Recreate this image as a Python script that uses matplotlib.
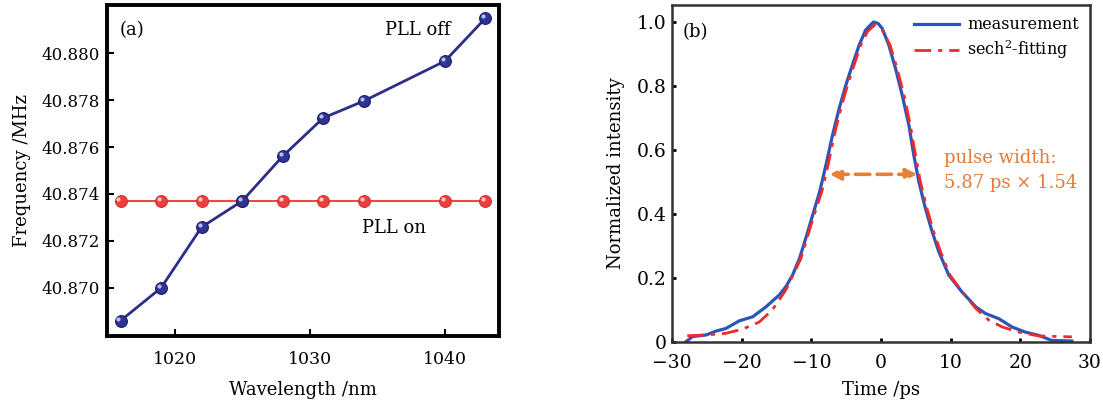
import numpy as np
import matplotlib.pyplot as plt
import matplotlib.transforms as mtransforms

plt.rcParams['font.family'] = ['DejaVu Serif']
plt.rcParams['mathtext.fontset'] = 'dejavuserif'

# (a) frequency vs wavelength
wavelength = [1016, 1019, 1022, 1025, 1028, 1031, 1034, 1040, 1043]
freq_off = [40.8686, 40.8700, 40.87259, 40.8737, 40.87561, 40.87724, 40.87796, 40.87966, 40.88149]
freq_on = [40.8737, 40.8737, 40.8737, 40.8737, 40.8737, 40.8737, 40.8737, 40.8737, 40.8737]

# (b) autocorrelation trace
t_meas = [-28.0, -27.05, -25.1, -23.7, -22.3, -20.35, -18.4, -16.5, -14.6, -13.65, -12.7,
          -11.7, -10.8, -9.8, -8.8, -7.9, -6.95, -6.0, -5.04, -4.1, -3.13, -2.2, -1.08,
          -0.4, 0.17, 1.12, 2.08, 3.04, 4.0, 4.71, 5.43, 6.38, 7.34, 8.3, 9.73, 11.6, 13.6,
          15.0, 16.9, 18.8, 20.7, 22.6, 24.5, 27.4]
i_meas = [0.001, 0.017, 0.022, 0.034, 0.042, 0.066, 0.079, 0.110, 0.147, 0.173, 0.209,
          0.261, 0.324, 0.397, 0.470, 0.553, 0.647, 0.730, 0.803, 0.866, 0.928, 0.975, 1.0,
          0.995, 0.98, 0.928, 0.855, 0.772, 0.678, 0.584, 0.501, 0.417, 0.345, 0.282, 0.209,
          0.157, 0.110, 0.089, 0.073, 0.047, 0.031, 0.021, 0.005, 0.003]
t_fit = [-27.8, -25.1, -22.3, -19.9, -17.5, -15.6, -13.65, -11.5, -9.6, -8.5, -7.6, -6.7,
         -5.76, -4.8, -3.85, -2.9, -1.94, -0.98, 0.17, 1.3, 2.3, 3.3, 4.2, 4.95, 5.65, 6.6,
         7.55, 8.55, 9.9, 11.65, 13.6, 15.5, 17.4, 19.8, 22.6, 27.4]
i_fit = [0.0195, 0.022, 0.027, 0.040, 0.062, 0.100, 0.163, 0.261, 0.397, 0.470, 0.553, 0.647,
         0.730, 0.803, 0.866, 0.928, 0.970, 0.990, 0.975, 0.928, 0.855, 0.772, 0.678, 0.584,
         0.501, 0.417, 0.345, 0.282, 0.209, 0.157, 0.105, 0.068, 0.047, 0.031, 0.019, 0.016]

fig = plt.figure(figsize=(11.03, 4.07), dpi=100)
ax1 = fig.add_axes([107 / 1103, 1 - 336 / 407, (499 - 107) / 1103, (336 - 5) / 407])
ax2 = fig.add_axes([672 / 1103, 1 - 342 / 407, (1090 - 672) / 1103, (342 - 5) / 407])

# Panel (a)
hl = mtransforms.offset_copy(ax1.transData, fig=fig, x=-1.5, y=1.5, units='points')
ax1.plot(wavelength, freq_on, '-', color='#f04848', lw=1.5, marker='o', ms=8.5,
         mfc='#ee3f3f', mec='#d83030', mew=0.8, zorder=2)
ax1.plot(wavelength, freq_on, 'o', ms=3, mfc='#ffc8c8', mec='none', transform=hl, zorder=2.5)
ax1.plot(wavelength, freq_off, '-', color='#2b2f85', lw=2.0, marker='o', ms=8.5,
         mfc='#2e3394', mec='#1c1f66', mew=0.8, zorder=3)
ax1.plot(wavelength, freq_off, 'o', ms=3, mfc='#b8bce8', mec='none', transform=hl, zorder=3.5)
ax1.set_xlim(1015, 1044)
ax1.set_ylim(40.86795, 40.88205)
ax1.set_xticks([1020, 1030, 1040])
ax1.set_yticks([40.870, 40.872, 40.874, 40.876, 40.878, 40.880])
ax1.yaxis.set_major_formatter(plt.FormatStrFormatter('%.3f'))
ax1.tick_params(direction='in', length=5, width=1.5, labelsize=12)
ax1.tick_params(axis='x', pad=11, labelsize=12.5)
ax1.tick_params(axis='y', pad=5)
for s in ax1.spines.values():
    s.set_linewidth(2.8)
ax1.set_xlabel('Wavelength /nm', fontsize=13, labelpad=9)
ax1.set_ylabel('Frequency /MHz', fontsize=13, labelpad=8)
ax1.text(0.033, 0.924, '(a)', transform=ax1.transAxes, fontsize=13, va='center')
ax1.text(1035.6, 40.8810, 'PLL off', fontsize=13, va='center')
ax1.text(1033.9, 40.87257, 'PLL on', fontsize=13, va='center')

# Panel (b)
ax2.plot(t_meas, i_meas, '-', color='#2b55b8', lw=2.3, label='measurement', zorder=2)
ax2.plot(t_fit, i_fit, color='#f02a2a', lw=2.0, dashes=[6, 2.5, 1.5, 2.5],
         label='sech$^2$-fitting', zorder=3)
ax2.annotate('', xy=(-7.4, 0.524), xytext=(5.2, 0.524),
             arrowprops=dict(arrowstyle='<|-|>', color='#e8803a', lw=2.6,
                             linestyle=(0, (4, 2)), mutation_scale=16,
                             shrinkA=0, shrinkB=0))
ax2.text(9.0, 0.574, 'pulse width:', color='#e07b39', fontsize=13, va='center')
ax2.text(9.0, 0.496, '5.87 ps \u00d7 1.54', color='#e07b39', fontsize=13, va='center')
ax2.text(0.026, 0.92, '(b)', transform=ax2.transAxes, fontsize=13, va='center')
ax2.set_xlim(-30, 30)
ax2.set_ylim(0, 1.053)
ax2.set_xticks([-30, -20, -10, 0, 10, 20, 30])
ax2.set_xticklabels(['\u221230', '\u221220', '\u221210', '0', '10', '20', '30'])
ax2.set_yticks([0, 0.2, 0.4, 0.6, 0.8, 1.0])
ax2.set_yticklabels(['0', '0.2', '0.4', '0.6', '0.8', '1.0'])
ax2.tick_params(direction='in', length=3, width=2, labelsize=13.5)
ax2.tick_params(axis='x', pad=9)
ax2.tick_params(axis='y', pad=4)
for s in ax2.spines.values():
    s.set_linewidth(1.8)
    s.set_color('#333333')
ax2.set_xlabel('Time /ps', fontsize=13, labelpad=6)
ax2.set_ylabel('Normalized intensity', fontsize=13, labelpad=8)
leg = ax2.legend(loc='upper right', fontsize=11.5, frameon=False, handlelength=2.8,
                 handletextpad=0.5, borderaxespad=0.3, labelspacing=0.35)

fig.savefig('out.png', dpi=100)
